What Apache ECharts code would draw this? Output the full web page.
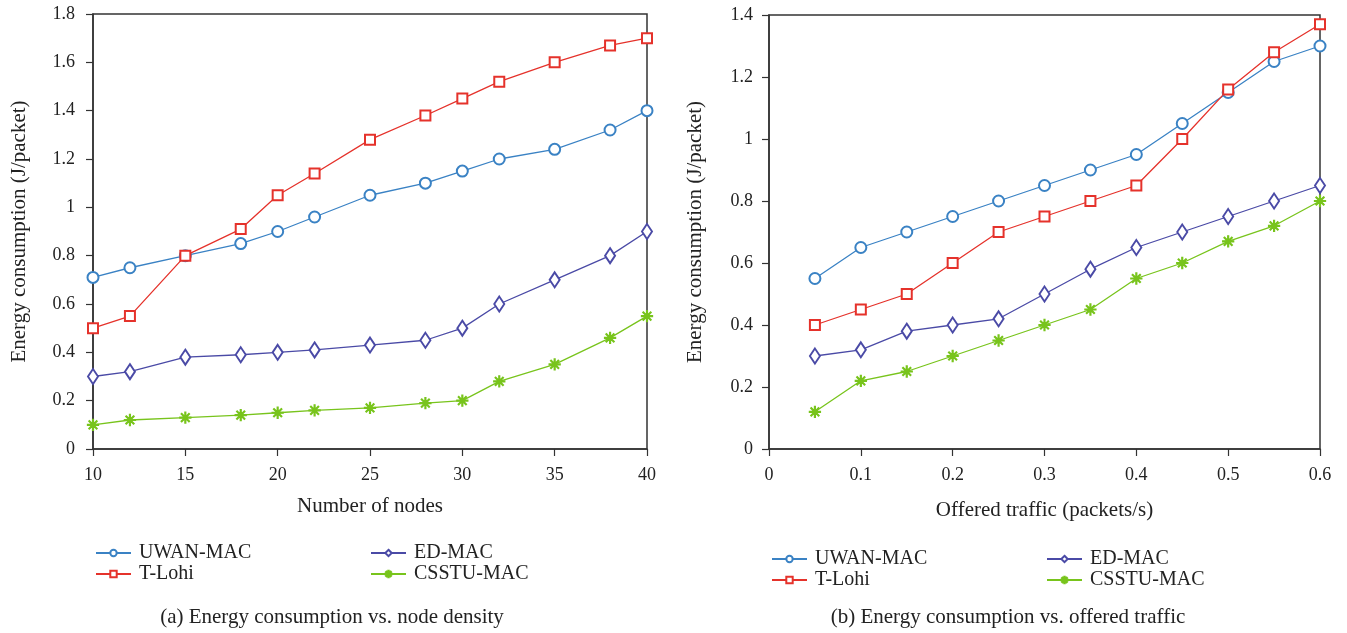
<!DOCTYPE html>
<html>
<head>
<meta charset="utf-8">
<title>Energy consumption</title>
<script src="https://cdn.jsdelivr.net/npm/echarts@6/dist/echarts.min.js"></script>
<style>
  html, body { margin: 0; padding: 0; background: #fff; }
  #chart { width: 1347px; height: 633px; }
</style>
</head>
<body>
<div id="chart"></div>
<script>
// (a) node density
const nodes = [10, 12, 15, 18, 20, 22, 25, 28, 30, 32, 35, 38, 40]
const uwanA = [0.71, 0.75, 0.80, 0.85, 0.90, 0.96, 1.05, 1.10, 1.15, 1.20, 1.24, 1.32, 1.40]
const tlohiA = [0.50, 0.55, 0.80, 0.91, 1.05, 1.14, 1.28, 1.38, 1.45, 1.52, 1.60, 1.67, 1.70]
const edA = [0.30, 0.32, 0.38, 0.39, 0.40, 0.41, 0.43, 0.45, 0.50, 0.60, 0.70, 0.80, 0.90]
const csstuA = [0.10, 0.12, 0.13, 0.14, 0.15, 0.16, 0.17, 0.19, 0.20, 0.28, 0.35, 0.46, 0.55]

// (b) offered traffic
const traffic = [0.05, 0.10, 0.15, 0.20, 0.25, 0.30, 0.35, 0.40, 0.45, 0.50, 0.55, 0.60]
const uwanB = [0.55, 0.65, 0.70, 0.75, 0.80, 0.85, 0.90, 0.95, 1.05, 1.15, 1.25, 1.30]
const tlohiB = [0.40, 0.45, 0.50, 0.60, 0.70, 0.75, 0.80, 0.85, 1.00, 1.16, 1.28, 1.37]
const edB = [0.30, 0.32, 0.38, 0.40, 0.42, 0.50, 0.58, 0.65, 0.70, 0.75, 0.80, 0.85]
const csstuB = [0.12, 0.22, 0.25, 0.30, 0.35, 0.40, 0.45, 0.55, 0.60, 0.67, 0.72, 0.80]

const names = ['UWAN-MAC', 'T-Lohi', 'ED-MAC', 'CSSTU-MAC']
const captions = ['(a) Energy consumption vs. node density', '(b) Energy consumption vs. offered traffic']

const font = 'Liberation Serif'
const axisColor = '#333'
const colors = ['#3a82c4', '#e5322b', '#4a4aa6', '#78c41c']
// asterisk marker (plus + cross)
const asterisk = 'path://M9.2 0H10.8V20H9.2Z M0 9.2H20V10.8H0Z M2.4 3.5L3.5 2.4L17.6 16.5L16.5 17.6Z M16.5 2.4L17.6 3.5L3.5 17.6L2.4 16.5Z'
const symbols = [
    { symbol: 'emptyCircle', size: 11 },
    { symbol: 'emptyRect', size: 10 },
    { symbol: 'emptyDiamond', size: [10, 15] },
    { symbol: asterisk, size: 11 },
]

const chart = echarts.init(document.getElementById('chart'))

const makeSeries = (gridIndex, xs, lists) =>
    lists.map((vals, i) => ({
        name: names[i],
        type: 'line',
        xAxisIndex: gridIndex,
        yAxisIndex: gridIndex,
        data: xs.map((x, k) => [x, vals[k]]),
        symbol: symbols[i].symbol,
        symbolSize: symbols[i].size,
        showSymbol: true,
        lineStyle: { color: colors[i], width: 1.3 },
        itemStyle: { color: colors[i], borderColor: colors[i], borderWidth: 1.3 },
        emphasis: { disabled: true },
        animation: false,
        z: 3,
    }))

const axisBase = {
    axisLine: { show: true, onZero: false, lineStyle: { color: axisColor, width: 1.5 } },
    axisTick: { show: true, inside: false, length: 7, lineStyle: { color: axisColor, width: 1.2 } },
    splitLine: { show: false },
    axisLabel: { color: '#222', fontFamily: font, fontSize: 18 },
    nameTextStyle: { color: '#222', fontFamily: font, fontSize: 21 },
}

const legendBase = {
    orient: 'vertical',
    padding: 0,
    itemWidth: 35,
    itemHeight: 8,
    itemGap: 1,
    textStyle: { color: '#222', fontFamily: font, fontSize: 20, padding: [0, 0, 0, 3] },
    selectedMode: false,
}

chart.setOption({
    backgroundColor: '#fff',
    grid: [
        { left: 93, right: 700, top: 14, bottom: 184, show: true, borderColor: axisColor, borderWidth: 1.5, backgroundColor: 'transparent' },
        { left: 769, right: 27, top: 15, bottom: 184, show: true, borderColor: axisColor, borderWidth: 1.5, backgroundColor: 'transparent' },
    ],
    xAxis: [
        {
            ...axisBase, type: 'value', gridIndex: 0, min: 10, max: 40, interval: 5,
            name: 'Number of nodes', nameLocation: 'middle', nameGap: 47,
            axisLabel: { ...axisBase.axisLabel, margin: 17 },
        },
        {
            ...axisBase, type: 'value', gridIndex: 1, min: 0, max: 0.6, interval: 0.1,
            name: 'Offered traffic (packets/s)', nameLocation: 'middle', nameGap: 51,
            axisLabel: { ...axisBase.axisLabel, margin: 17 },
        },
    ],
    yAxis: [
        {
            ...axisBase, type: 'value', gridIndex: 0, min: 0, max: 1.8, interval: 0.2,
            name: 'Energy consumption (J/packet)', nameLocation: 'middle', nameGap: 63,
            axisLabel: { ...axisBase.axisLabel, margin: 18 },
        },
        {
            ...axisBase, type: 'value', gridIndex: 1, min: 0, max: 1.4, interval: 0.2,
            name: 'Energy consumption (J/packet)', nameLocation: 'middle', nameGap: 63,
            axisLabel: { ...axisBase.axisLabel, margin: 16 },
        },
    ],
    legend: [
        { ...legendBase, left: 95, top: 543, data: names.slice(0, 2) },
        { ...legendBase, left: 370, top: 543, data: names.slice(2, 4) },
        { ...legendBase, left: 771, top: 549, data: names.slice(0, 2) },
        { ...legendBase, left: 1046, top: 549, data: names.slice(2, 4) },
    ],
    graphic: [
        { type: 'text', x: 332, y: 617, style: { text: captions[0], fontFamily: font, fontSize: 21, fill: '#222', align: 'center', verticalAlign: 'middle' } },
        { type: 'text', x: 1008, y: 617, style: { text: captions[1], fontFamily: font, fontSize: 21, fill: '#222', align: 'center', verticalAlign: 'middle' } },
    ],
    series: [
        ...makeSeries(0, nodes, [uwanA, tlohiA, edA, csstuA]),
        ...makeSeries(1, traffic, [uwanB, tlohiB, edB, csstuB]),
    ],
})
</script>
</body>
</html>
